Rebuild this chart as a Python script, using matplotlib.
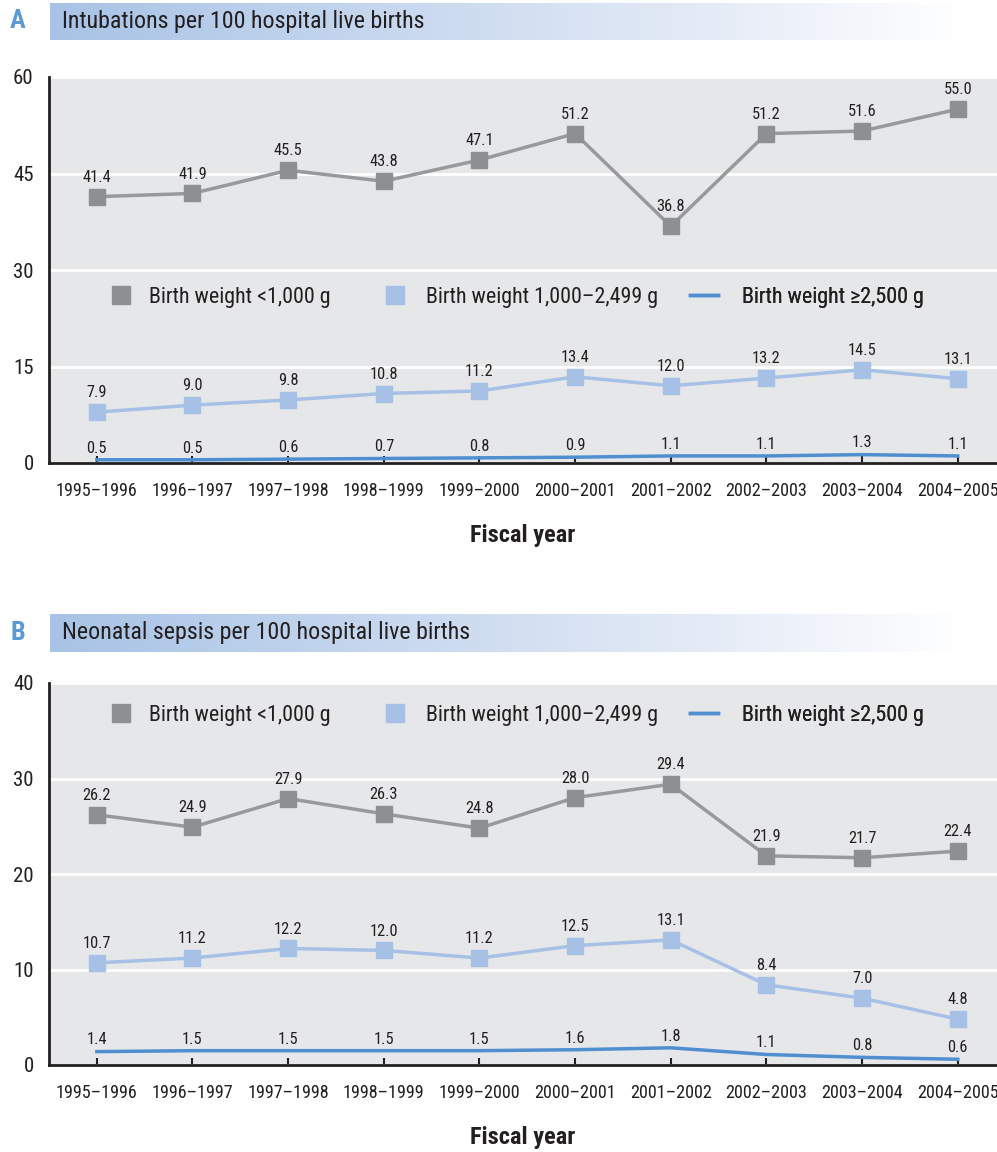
import numpy as np
import matplotlib
matplotlib.use("Agg")
import matplotlib.pyplot as plt
from matplotlib.lines import Line2D
from matplotlib.colors import LinearSegmentedColormap

plt.rcParams['font.family'] = ['Roboto Condensed', 'DejaVu Sans']

years = ["1995–1996", "1996–1997", "1997–1998", "1998–1999", "1999–2000",
         "2000–2001", "2001–2002", "2002–2003", "2003–2004", "2004–2005"]

intub_lt1000 = [41.4, 41.9, 45.5, 43.8, 47.1, 51.2, 36.8, 51.2, 51.6, 55.0]
intub_1000_2499 = [7.9, 9.0, 9.8, 10.8, 11.2, 13.4, 12.0, 13.2, 14.5, 13.1]
intub_ge2500 = [0.5, 0.5, 0.6, 0.7, 0.8, 0.9, 1.1, 1.1, 1.3, 1.1]

sepsis_lt1000 = [26.2, 24.9, 27.9, 26.3, 24.8, 28.0, 29.4, 21.9, 21.7, 22.4]
sepsis_1000_2499 = [10.7, 11.2, 12.2, 12.0, 11.2, 12.5, 13.1, 8.4, 7.0, 4.8]
sepsis_ge2500 = [1.4, 1.5, 1.5, 1.5, 1.5, 1.6, 1.8, 1.1, 0.8, 0.6]

series_labels = ["Birth weight <1,000 g", "Birth weight 1,000–2,499 g",
                 "Birth weight \u22652,500 g"]

GRAY = "#8e8f91"
GRAY_LINE = "#98999b"
LIGHT = "#a7c0e5"
BLUE = "#4f8fd0"
PANEL_BG = "#e6e7e9"
TEXT = "#231f20"

W, H = 997, 1152
AX_LEFT, AX_W = 49, W - 49
fig = plt.figure(figsize=(W / 100, H / 100), dpi=100)

grad_cmap = LinearSegmentedColormap.from_list(
    "hdr", [(0.0, "#a8c3e6"), (0.7, "#e3eaf6"), (1.0, "#ffffff")])

LEG_FS = 15.8
LEG_PX = LEG_FS * 100 / 72
# (left edge of key box in px, gap between key and text in px)
legend_slots = [(107, 14), (381, 17), (690, 24)]


def px_box(x0, y0, x1, y1):
    return [x0 / W, 1 - y1 / H, (x1 - x0) / W, (y1 - y0) / H]


def header(letter, title, y0, y1):
    hax = fig.add_axes(px_box(50, y0, 965, y1))
    hax.imshow(np.linspace(0, 1, 256)[None, :], aspect="auto", cmap=grad_cmap,
               extent=[0, 1, 0, 1])
    hax.set_axis_off()
    hax.text(0.013, 0.5, title, transform=hax.transAxes, va="center", ha="left",
             fontsize=17.3, color=TEXT)
    fig.text(18 / W, 1 - ((y0 + y1) / 2) / H, letter, ha="center", va="center",
             fontsize=19, fontweight="bold", color="#5b9bd5")


def panel(box, ymax, step, s1, s2, s3, legend_y):
    ax = fig.add_axes(box)
    x = np.arange(len(years))
    ax.set_facecolor(PANEL_BG)
    ax.set_xlim(-0.5, 9.41)
    ax.set_ylim(0, ymax)
    ax.set_yticks(np.arange(0, ymax + 0.1, step))
    ax.yaxis.grid(True, color="white", linewidth=2)
    ax.set_axisbelow(True)
    for side in ("top", "right"):
        ax.spines[side].set_visible(False)
    for side in ("left", "bottom"):
        ax.spines[side].set_color(TEXT)
        ax.spines[side].set_linewidth(2)
    ax.set_xticks(x)
    ax.set_xticklabels(years)
    ax.tick_params(axis="x", direction="in", length=5, width=1.5, color=TEXT,
                   pad=14, labelsize=13.1, labelcolor=TEXT)
    ax.tick_params(axis="y", length=0, pad=11, labelsize=15, labelcolor=TEXT)
    ax.set_xlabel("Fiscal year", fontsize=17.5, fontweight="bold", color=TEXT,
                  labelpad=17)

    ax.plot(x, s1, color=GRAY_LINE, lw=2.5, marker="s", ms=11.3,
            mfc=GRAY, mec=GRAY, zorder=3, clip_on=False)
    ax.plot(x, s2, color=LIGHT, lw=2.5, marker="s", ms=11.3,
            mfc=LIGHT, mec=LIGHT, zorder=3, clip_on=False)
    ax.plot(x, s3, color=BLUE, lw=2.5, zorder=3, clip_on=False)

    for xi, v in zip(x, s1):
        ax.annotate(f"{v:.1f}", (xi, v), xytext=(0, 8.5), textcoords="offset points",
                    ha="center", va="bottom", fontsize=11.8, color=TEXT)
    for xi, v in zip(x, s2):
        ax.annotate(f"{v:.1f}", (xi, v), xytext=(0, 8.5), textcoords="offset points",
                    ha="center", va="bottom", fontsize=11.8, color=TEXT)
    for xi, v in zip(x, s3):
        ax.annotate(f"{v:.1f}", (xi, v), xytext=(0, 3), textcoords="offset points",
                    ha="center", va="bottom", fontsize=11.8, color=TEXT)

    handles = [
        Line2D([], [], ls="none", marker="s", ms=13, mfc=GRAY, mec=GRAY),
        Line2D([], [], ls="none", marker="s", ms=13, mfc=LIGHT, mec=LIGHT),
        Line2D([], [], color=BLUE, lw=2.5),
    ]
    for handle, label, (left_px, gap_px) in zip(handles, series_labels, legend_slots):
        leg = ax.legend([handle], [label], loc="center left",
                        bbox_to_anchor=((left_px - AX_LEFT) / AX_W, legend_y),
                        frameon=False, fontsize=LEG_FS, borderpad=0,
                        borderaxespad=0, handlelength=28 / LEG_PX,
                        handletextpad=gap_px / LEG_PX, labelcolor=TEXT)
        ax.add_artist(leg)
    return ax


header("A", "Intubations per 100 hospital live births", 3, 40)
panel(px_box(AX_LEFT, 77, W, 463), 60, 15,
      intub_lt1000, intub_1000_2499, intub_ge2500, (463 - 297) / 386)

header("B", "Neonatal sepsis per 100 hospital live births", 614, 652)
panel(px_box(AX_LEFT, 683, W, 1065), 40, 10,
      sepsis_lt1000, sepsis_1000_2499, sepsis_ge2500, (1065 - 715) / 382)

fig.savefig("out.png", dpi=100)
